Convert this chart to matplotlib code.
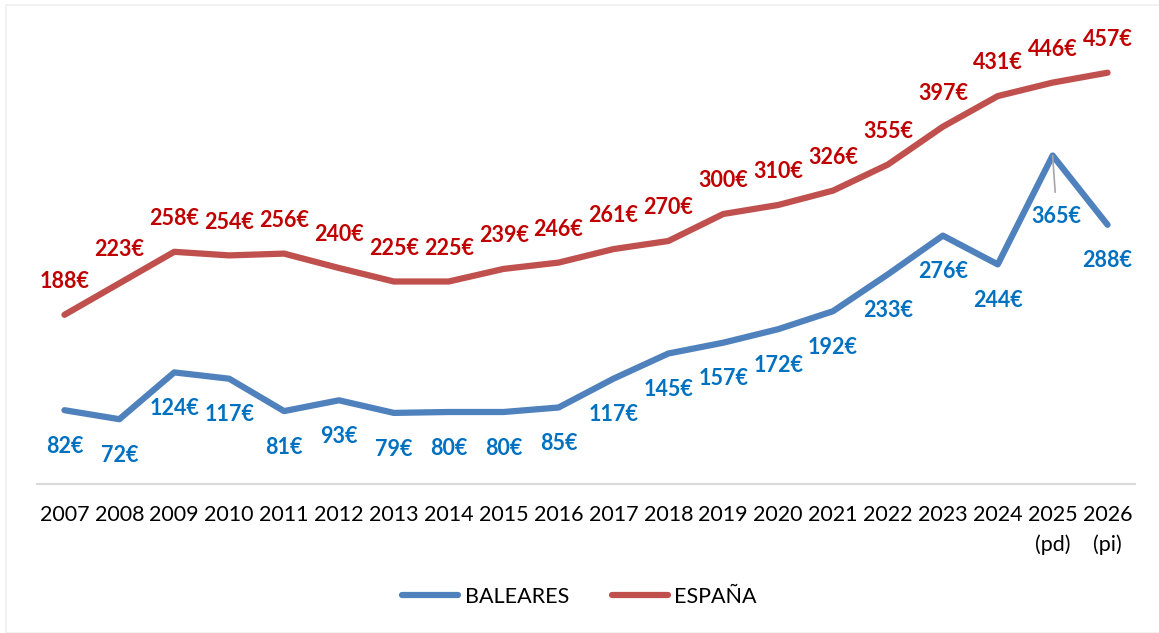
import matplotlib
matplotlib.use('Agg')
import matplotlib.pyplot as plt
from matplotlib.patches import Rectangle

# ── Data ────────────────────────────────────────────────────────────
years = ['2007', '2008', '2009', '2010', '2011', '2012', '2013', '2014', '2015', '2016',
         '2017', '2018', '2019', '2020', '2021', '2022', '2023', '2024', '2025\n(pd)', '2026\n(pi)']
baleares = [82, 72, 124, 117, 81, 93, 79, 80, 80, 85,
            117, 145, 157, 172, 192, 233, 276, 244, 365, 288]
espana = [188, 223, 258, 254, 256, 240, 225, 225, 239, 246,
          261, 270, 300, 310, 326, 355, 397, 431, 446, 457]

BLUE_LINE, BLUE_TXT = '#4F81BD', '#0070C0'
RED_LINE, RED_TXT = '#C0504D', '#C00000'
FS = 15.5

plt.rcParams['font.family'] = ['Lato', 'DejaVu Sans']

fig = plt.figure(figsize=(11.59, 6.33), dpi=100)
ax = fig.add_axes([37 / 1159, (633 - 484) / 633, (1135 - 37) / 1159, 450 / 633])

x = list(range(len(years)))
ax.plot(x, baleares, color=BLUE_LINE, lw=4.5, solid_capstyle='round', label='BALEARES')
ax.plot(x, espana, color=RED_LINE, lw=4.5, solid_capstyle='round', label='ESPAÑA')

for i, v in enumerate(espana):
    ax.annotate(f'{v}€', (i, v), xytext=(0, 24), textcoords='offset points',
                ha='center', va='center', color=RED_TXT, fontsize=FS, fontweight='bold')

for i, v in enumerate(baleares):
    if i == 18:
        # label pulled down with a leader line
        ax.annotate(f'{v}€', (i, v), xytext=(3, -44), textcoords='offset points',
                    ha='center', va='center', color=BLUE_TXT, fontsize=FS, fontweight='bold',
                    arrowprops=dict(arrowstyle='-', color='#A6A6A6', lw=1.2,
                                    shrinkA=8, shrinkB=0))
    else:
        ax.annotate(f'{v}€', (i, v), xytext=(0, -26), textcoords='offset points',
                    ha='center', va='center', color=BLUE_TXT, fontsize=FS, fontweight='bold')

ax.set_xlim(-0.5, len(years) - 0.5)
ax.set_ylim(0, 500)
ax.set_xticks(x)
ax.set_xticklabels(years, fontsize=FS, color='#000000', linespacing=1.55)
ax.tick_params(axis='x', length=0, pad=15)
ax.set_yticks([])
for s in ['left', 'right', 'top']:
    ax.spines[s].set_visible(False)
ax.spines['bottom'].set_color('#D9D9D9')
ax.spines['bottom'].set_linewidth(1.5)

fig.legend(loc='center', bbox_to_anchor=(0.5, (633 - 597) / 633),
           ncol=2, frameon=False, fontsize=FS, handlelength=2.6, columnspacing=2.0,
           handletextpad=0.3)

fig.patches.append(Rectangle((6 / 1159, 0), 1.0, (633 - 5) / 633, transform=fig.transFigure,
                             fill=False, edgecolor='#EFEFEF', lw=1.2))

fig.savefig('out.png', dpi=100)
